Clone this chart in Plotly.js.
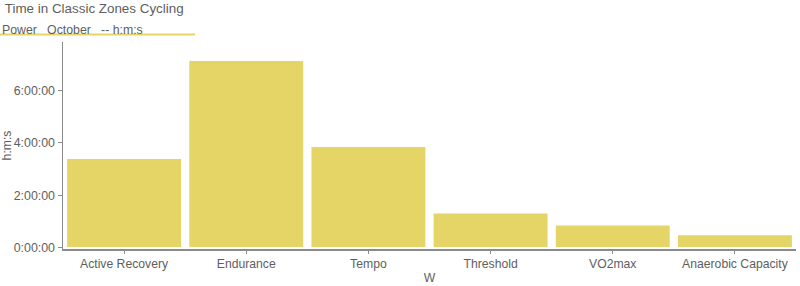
<!DOCTYPE html>
<html><head><meta charset="utf-8">
<script src="https://cdn.plot.ly/plotly-3.0.1.min.js"></script>
<style>html,body{margin:0;padding:0;background:#fff}#chart{width:800px;height:286px}</style>
</head><body><div id="chart"></div>
<script>
const categories = ["Active Recovery","Endurance","Tempo","Threshold","VO2max","Anaerobic Capacity"];
const seconds = [12276, 25740, 13932, 4800, 3150, 1800];
const tickValues = [0, 7200, 14400, 21600];
const tickLabels = ["0:00:00","2:00:00","4:00:00","6:00:00"];
const chartTitle = "Time in Classic Zones Cycling";
const legendText = "Power&nbsp;&nbsp;&nbsp;October&nbsp;&nbsp;&nbsp;-- h:m:s";

const barColor = "#e5d567";
const textColor = "#5e5e5e";
const axisColor = "#8a8a8a";

const trace = {
  type: "bar", x: categories, y: seconds,
  marker: {color: barColor, line: {color: "#ffffff", width: 1.5}},
  hoverinfo: "none"
};
const layout = {
  width: 800, height: 286,
  margin: {l: 63, r: 4, t: 42, b: 37},
  paper_bgcolor: "#fff", plot_bgcolor: "#fff",
  font: {family: "Liberation Sans, Arial, sans-serif", size: 12, color: textColor},
  showlegend: false,
  bargap: 0.055,
  title: {text: chartTitle, xref: "container", yref: "container", x: 0.006, xanchor: "left", y: 1 - 8.5/286, yanchor: "middle", font: {size: 13.4, color: textColor}},
  xaxis: {
    showgrid: false, zeroline: false, showline: true, linecolor: axisColor, linewidth: 1.5,
    ticks: "outside", ticklen: 3, tickcolor: axisColor,
    tickfont: {size: 12.2, color: textColor},
    title: {text: "W", standoff: 3, font: {size: 12.2, color: textColor}}
  },
  yaxis: {
    range: [-180, 28250], showgrid: false, zeroline: false, showline: true, linecolor: axisColor, linewidth: 1.5,
    ticks: "outside", ticklen: 4, tickcolor: axisColor,
    tickvals: tickValues, ticktext: tickLabels,
    tickfont: {size: 12.4, color: textColor},
    title: {text: "h:m:s", standoff: 6, font: {size: 12.2, color: textColor}}
  },
  annotations: [{
    xref: "paper", yref: "paper", x: -63/733, y: 1 + 12/207, xanchor: "left", yanchor: "middle",
    text: legendText, showarrow: false, font: {size: 12.3, color: textColor}
  }],
  shapes: [{
    type: "line", xref: "paper", yref: "paper", x0: -63/733, x1: 132/733, y0: 1 + 7.5/207, y1: 1 + 7.5/207,
    line: {color: barColor, width: 2}
  }]
};
Plotly.newPlot("chart", [trace], layout, {displayModeBar: false, staticPlot: true});
</script></body></html>
